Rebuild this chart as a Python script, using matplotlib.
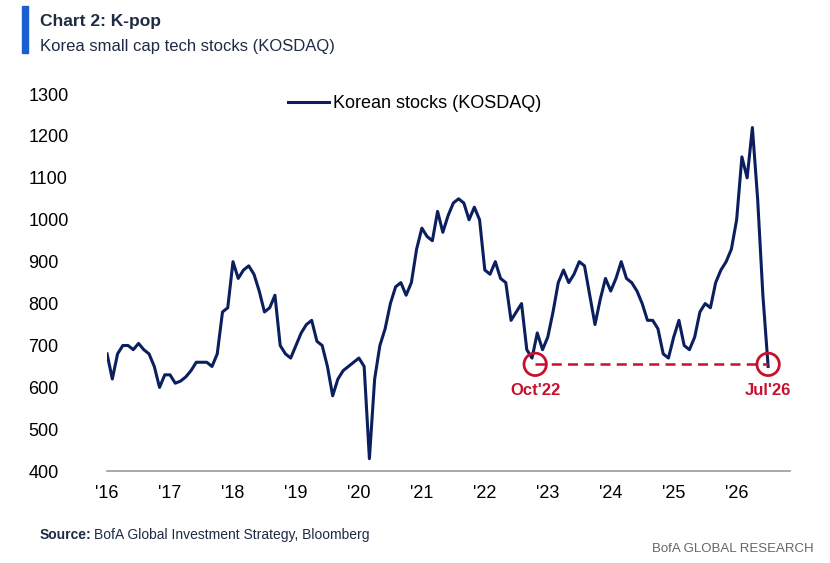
import matplotlib
matplotlib.use("Agg")
import matplotlib.pyplot as plt
import numpy as np

plt.rcParams['font.family'] = ['Liberation Sans', 'DejaVu Sans']

start_year = 2016
values = [
 680,620,680,700,700,690,705,690,680,650,600,630,
 630,610,615,625,640,660,660,660,650,680,780,790,
 900,860,880,890,870,830,780,790,820,700,680,670,
 700,730,750,760,710,700,650,580,620,640,650,660,
 670,650,430,620,700,740,800,840,850,820,850,930,
 980,960,950,1020,970,1010,1040,1050,1040,1000,1030,1000,
 880,870,900,860,850,760,780,800,690,670,730,690,
 720,780,850,880,850,870,900,890,820,750,810,860,
 830,860,900,860,850,830,800,760,760,740,680,670,
 720,760,700,690,720,780,800,790,850,880,900,930,
 1000,1150,1100,1220,1050,820,650]
years = start_year + np.arange(len(values)) / 12.0
tick_labels = ["'16","'17","'18","'19","'20","'21","'22","'23","'24","'25","'26"]
yticks = [400,500,600,700,800,900,1000,1100,1200,1300]
low_level = 655
low_points = [2022.8, 2026.5]
low_labels = ["Oct'22", "Jul'26"]

navy = '#0B1F5E'
red = '#C8102E'

fig = plt.figure(figsize=(8.30, 5.63), dpi=100)
ax = fig.add_axes([0.129, 0.163, 0.823, 0.67])
ax.plot(years, values, color=navy, lw=2.2, label='Korean stocks (KOSDAQ)')
ax.plot(low_points, [low_level]*2, color=red, lw=1.8, ls=(0, (4, 2.5)))
ax.scatter(low_points, [low_level]*2, s=260, facecolors='none', edgecolors=red, lw=2, zorder=5)
for xp, lab in zip(low_points, low_labels):
    ax.text(xp, low_level - 45, lab, color=red, fontsize=12, fontweight='bold', ha='center', va='top')

ax.set_xlim(2016, 2026.85)
ax.set_ylim(400, 1300)
ax.set_yticks(yticks)
ax.set_xticks(np.arange(2016, 2027))
ax.set_xticklabels(tick_labels)
ax.tick_params(axis='both', length=0, labelsize=13, pad=10)
for s in ['top', 'right', 'left']:
    ax.spines[s].set_visible(False)
ax.spines['bottom'].set_color('#999999')
ax.spines['bottom'].set_linewidth(1.2)
for lab in ax.get_yticklabels():
    lab.set_horizontalalignment('left')
    lab.set_x(-0.095)
ax.legend(loc='upper center', bbox_to_anchor=(0.45, 1.04), frameon=False, fontsize=13,
          handlelength=2.3, handletextpad=0.2)

fig.patches.append(plt.Rectangle((0.026, 0.905), 0.008, 0.085, transform=fig.transFigure, color='#1A5FD0'))
fig.text(0.048, 0.962, 'Chart 2: K-pop', fontsize=12.5, fontweight='bold', color='#1F2A44', va='center')
fig.text(0.048, 0.918, 'Korea small cap tech stocks (KOSDAQ)', fontsize=12, color='#1F2A44', va='center')
fig.text(0.048, 0.05, 'Source:', fontsize=10, fontweight='bold', color='#1F2A44', va='center')
fig.text(0.113, 0.05, 'BofA Global Investment Strategy, Bloomberg', fontsize=10, color='#1F2A44', va='center')
fig.text(0.98, 0.015, 'BofA GLOBAL RESEARCH', fontsize=9.5, color='#666666', ha='right', va='bottom')
fig.savefig('out.png', dpi=100)
